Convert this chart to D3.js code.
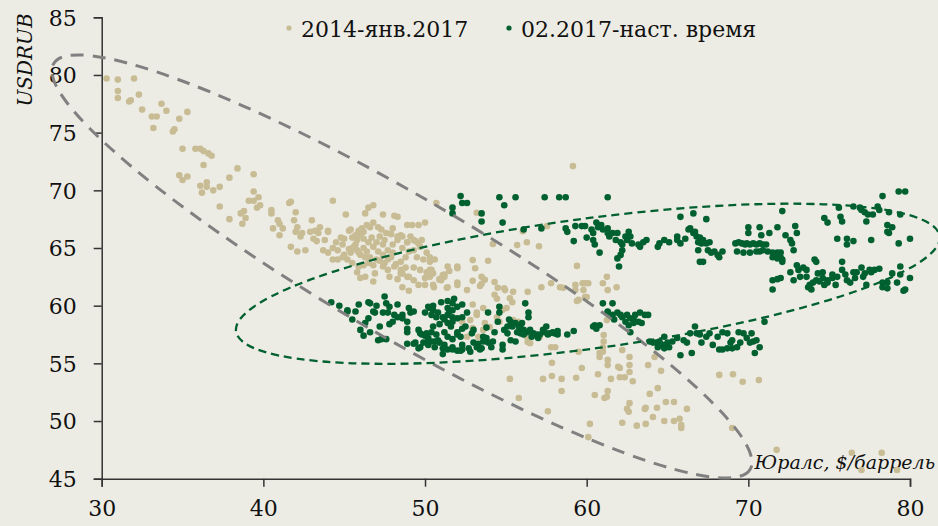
<!DOCTYPE html>
<html>
<head>
<meta charset="utf-8">
<script src="https://cdn.jsdelivr.net/npm/d3@7"></script>
<style>
  html, body { margin: 0; padding: 0; background: #edece4; }
  svg { display: block; }
  text { font-family: "DejaVu Serif", "Liberation Serif", serif; fill: #111; }
</style>
</head>
<body>
<svg width="938" height="526"></svg>
<script>

// Юралс ($/баррель), USDRUB — 2014 - янв.2017
const period_old = [
  [30.3,79.7],[31.0,79.6],[32.0,79.7],[31.0,78.6],[31.0,78.0],[31.7,77.7],[31.8,77.8],[32.3,78.3],
  [32.5,77.0],[33.1,76.4],[33.4,76.4],[33.2,75.4],[33.7,77.5],[34.0,76.9],[34.8,76.2],[35.3,76.8],
  [34.4,75.1],[34.5,75.3],[35.0,73.6],[35.8,73.6],[36.1,73.6],[36.3,73.4],[36.6,73.2],[36.8,73.0],
  [36.3,72.2],[34.8,71.3],[35.0,70.9],[35.3,71.2],[36.1,70.4],[36.5,70.7],[36.5,70.3],[36.2,69.8],
  [36.9,70.0],[37.3,70.3],[38.4,71.9],[37.9,71.1],[39.4,71.4],[37.3,68.6],[37.9,67.5],[38.6,68.0],
  [38.8,68.2],[38.9,67.6],[38.7,67.1],[39.1,69.1],[39.4,69.9],[39.4,69.1],[39.7,69.4],[39.6,68.5],
  [39.8,68.7],[40.5,68.3],[40.5,68.0],[40.9,67.4],[41.0,67.1],[40.6,66.7],[41.2,66.7],[41.0,66.1],
  [41.6,68.9],[41.7,69.0],[42.0,68.1],[41.9,67.4],[42.1,66.8],[42.0,66.4],[42.4,66.3],[42.3,66.0],
  [43.0,67.4],[41.7,65.1],[42.1,64.7],[42.6,64.8],[43.7,64.8],[44.3,69.1],[44.0,66.5],[45.1,67.9],
  [45.4,66.6],[46.3,68.0],[46.5,68.5],[46.8,68.7],[47.4,67.9],[48.1,67.8],[42.9,66.4],[43.2,66.5],
  [43.5,66.8],[43.4,66.3],[43.1,65.8],[43.3,65.6],[43.8,65.7],[44.0,66.4],[45.3,66.5],[45.9,66.5],
  [46.1,66.6],[46.2,65.8],[48.3,67.7],[48.9,67.0],[49.2,67.0],[50.0,67.2],[49.6,67.0]
];

const period_old_core = [
  [44.5,65.5],[44.8,65.9],[44.9,65.3],[44.6,64.8],[44.9,64.2],[44.6,64.0],[45.2,64.0],[45.4,64.6],
  [45.6,65.1],[45.8,65.7],[46.0,66.1],[46.2,66.4],[45.8,64.8],[46.0,64.4],[46.2,65.0],[46.4,64.7],
  [46.5,65.5],[46.7,65.9],[46.8,65.1],[47.0,65.5],[47.2,66.0],[47.4,65.3],[47.5,65.7],[47.1,64.7],
  [47.4,64.4],[47.7,64.8],[47.7,64.0],[48.0,64.6],[48.0,65.3],[48.3,65.7],[48.5,66.1],[48.6,65.0],
  [48.8,64.2],[48.5,63.8],[48.9,65.5],[49.1,66.0],[49.3,64.8],[49.5,64.2],[49.7,65.1],[49.9,64.0],
  [50.1,64.6],[50.3,63.8],[46.2,63.5],[45.8,62.9],[46.0,62.4],[46.3,62.5],[46.8,62.1],[46.8,63.5],
  [47.4,63.4],[47.7,63.1],[47.8,62.5],[48.3,62.3],[48.5,63.1],[48.6,62.8],[49.0,62.5],[49.3,63.3],
  [49.7,63.1],[50.0,62.4],[50.1,62.9],[50.3,63.1],[50.5,61.8],[50.9,62.3],[51.2,62.7],[51.4,61.6],
  [51.4,63.4],[52.0,63.4],[52.0,62.0],[48.6,61.6],[49.0,61.3],[45.3,64.9],[45.0,65.8],[46.6,64.2],
  [47.9,66.2],[48.2,63.6],[49.4,65.6],[44.3,65.0],[45.5,63.7],[47.2,63.9],
  [45.5,65.9],[45.7,66.1],[45.9,66.4],[46.1,66.7],[46.4,67.0],[46.6,66.8],[46.8,67.2],[47.1,66.8],
  [47.3,66.6],[47.6,66.3],[48.0,66.7],[48.3,66.0],[48.6,66.0],[48.9,65.5],[49.3,65.7],[49.6,65.4],
  [49.8,65.7],[45.5,65.0],[45.7,65.3],[45.9,64.6],[46.3,64.2],[46.5,63.7],[47.0,64.0],[47.5,63.7],
  [48.1,63.4],[48.5,62.8],[48.9,62.5],[49.3,62.2],[49.6,61.8],[50.0,61.8],[50.3,62.5],[50.5,62.8],
  [51.0,62.2],[51.2,62.5],[44.0,64.6],[44.3,64.0],[45.0,64.4],[45.9,63.4],[47.9,64.2],[48.8,63.3],
  [49.0,64.7],[50.6,64.0],[51.5,63.0],[46.9,62.8]
];

const period_old_low = [
  [50.7,68.9],[53.2,68.05],[57.55,66.9],[55.7,65.25],[56.3,65.5],[57.05,65.15],[54.2,65.35],[56.05,66.45],
  [59.15,72.1],[59.4,63.45],[50.3,64.2],[50.4,63.1],[50.55,61.6],[50.9,62.25],[51.1,62.65],[51.35,61.55],
  [52.0,63.25],[52.95,63.95],[53.1,63.25],[53.9,63.9],[52.0,61.8],[52.95,62.15],[52.6,61.35],[53.5,62.5],
  [53.7,62.25],[53.4,61.7],[54.3,62.05],[54.5,61.55],[54.3,60.95],[54.95,61.35],[55.45,61.2],[55.25,60.65],
  [54.45,60.6],[54.6,59.9],[54.8,59.65],[55.05,59.8],[55.4,60.3],[53.6,59.8],[53.2,59.2],[53.7,58.5],
  [54.0,58.15],[53.6,57.9],[52.8,58.75],[52.95,58.05],[52.3,58.6],[52.6,57.3],[53.3,57.3],[54.45,59.0],
  [54.6,58.6],[55.45,58.75],[55.75,58.6],[56.3,57.3],[56.35,56.85],[56.5,56.75],[57.1,57.3],[57.2,61.6],
  [58.55,61.55],[59.9,61.95],[60.1,61.95],[59.8,61.35],[60.0,60.75],[59.4,60.4],[59.3,61.35],[58.35,61.6],
  [61.25,62.5],[61.0,61.95],[61.3,61.35],[61.85,61.6],[57.8,56.4],[58.05,56.4],[59.5,56.0],[60.8,55.9],
  [61.05,57.45],[61.0,56.4],[60.8,55.55],[59.7,54.6],[57.85,55.05],[61.3,55.3],[61.3,54.85],[61.95,54.7],
  [62.05,54.6],[62.2,56.15],[62.65,55.55],[62.65,54.85],[62.65,54.25],[61.5,53.65],[62.05,53.8],[62.35,53.8],
  [62.85,53.45],[63.8,54.85],[64.2,55.55],[64.6,54.35],[60.7,54.05],[55.25,53.65],[57.3,53.65],[57.85,53.9],
  [58.45,53.65],[58.45,52.6],[55.8,52.0],[57.6,50.85],[59.35,53.75],[60.5,52.25],[61.1,52.0],[61.25,52.1],
  [61.3,52.6],[60.2,49.75],[62.2,49.85],[63.1,49.6],[63.65,49.75],[62.65,51.55],[62.5,51.05],[62.6,50.8],
  [63.6,51.05],[63.65,51.15],[63.9,52.35],[64.4,52.85],[64.35,51.15],[64.9,51.65],[64.1,50.35],[64.8,50.0],
  [65.4,51.65],[65.4,50.0],[65.75,50.2],[65.85,49.65],[65.85,49.4],[66.2,51.05],[68.2,54.0],[69.05,54.05],
  [69.65,53.4],[70.65,53.55],[69.0,49.4],[71.75,47.5],[76.4,47.25],[77.0,45.75],[78.25,47.25],[79.2,45.75],
  [60.1,48.6],[61.25,58.75],[52.95,60.1],[53.2,59.4],[53.5,61.9],[54.9,61.5],[56.35,61.2],[57.8,61.95],
  [59.3,61.8],[59.75,61.95],[59.5,60.5],[59.9,60.75],[61.05,56.9],[61.0,56.0]
];

// 02.2017 - наст. время
const period_new = [
  [44.2,60.3],[44.7,60.0],[45.2,59.5],[45.2,59.6],[45.7,59.5],[45.5,58.8],[46.3,58.5],[46.0,57.9],
  [46.6,57.7],[46.2,57.4],[47.1,57.0],[47.3,57.1],[47.6,57.1],[46.5,60.3],[46.6,60.2],[47.0,60.0],
  [47.5,60.8],[47.6,60.2],[47.8,59.9],[48.3,60.1],[46.8,59.5],[46.9,59.4],[47.4,59.4],[47.7,59.4],
  [48.1,59.2],[48.3,59.0],[48.6,59.2],[48.6,58.9],[49.1,59.4],[49.3,59.5],[48.9,58.6],[47.8,58.4],
  [48.9,58.0],[50.0,59.4],[50.2,59.9],[50.3,59.8],[50.5,59.6],[50.4,59.2],[50.7,59.0],[51.0,60.3],
  [51.4,60.4],[51.7,60.2],[51.8,60.6],[51.4,59.8],[51.5,59.5],[51.7,59.6],[51.4,59.2],[51.7,59.0],
  [51.4,58.5],[51.7,58.6],[52.0,58.9],[52.0,59.9],[52.3,60.1],[52.3,59.0],[52.5,58.2],[52.3,58.0],
  [52.0,57.7],[52.0,57.5],[51.2,57.7],[50.5,58.2],[50.4,57.7],[50.1,57.6],[50.0,57.4],[49.7,57.6],
  [49.8,57.5],[50.2,57.2],[50.4,56.9],[50.6,56.9],[50.8,57.0],[50.9,56.8],[51.2,56.6],[51.4,57.3],
  [51.7,57.1],[50.1,56.8],[50.2,56.6],[49.7,56.4],[49.9,56.8],[49.3,56.7],[49.4,56.8],[48.9,56.7],
  [49.6,56.3],[48.9,57.7],[51.1,56.3],[51.4,56.2],[51.7,56.4],[51.7,56.2],[52.0,56.1],[52.2,56.1],
  [52.3,56.2],[51.1,55.8],[52.3,56.6],[52.7,56.3],[52.9,57.6],[53.0,56.8],[53.2,56.4],[53.3,56.7],
  [53.4,56.2],[53.5,56.3],[53.6,56.9],[53.6,57.3],[53.8,57.2],[53.9,59.4],[54.1,56.4],[54.2,56.9],
  [54.5,58.6],[54.6,59.4],[54.6,59.9],[54.8,56.2],[54.8,56.6],[54.9,57.9],[55.1,58.2],[55.1,57.6],
  [55.3,57.0],[55.3,58.6],[55.4,58.2],[55.6,58.5],[55.8,58.2],[55.9,58.1],[56.0,58.5],[56.1,57.9],
  [56.3,57.7],[56.5,57.9],[55.9,57.6],[56.1,57.5],[56.4,59.4],[56.4,59.0],[56.2,60.2],[56.7,57.6],
  [56.9,57.5],[57.1,57.5],[57.0,57.2],[57.5,58.2],[57.4,57.7],[57.6,57.5],[57.7,57.6],[57.9,57.7],
  [58.0,57.6],[58.2,57.5],[58.2,57.8],[58.8,57.5],[59.2,57.8],[60.4,58.2],[60.5,58.3],[60.8,58.3],
  [60.6,58.0],[61.0,60.2],[61.6,60.2],[61.3,59.5],[61.3,59.4],[61.6,59.2],[61.9,59.4],[62.1,59.2],
  [62.2,59.0],[62.5,59.2],[62.7,58.9],[62.9,58.8],[62.6,58.3],[62.9,58.5],[63.2,58.6],[63.4,58.5],
  [63.6,59.2],[63.8,59.2],[63.3,59.4],[62.7,57.7],[63.9,56.9],[64.3,56.8],[64.5,56.9],[64.7,56.6],
  [64.8,56.3],[65.0,56.8],[65.1,56.4],[65.6,57.2],[65.8,55.7],[66.2,56.8],[66.4,57.6],[66.7,58.2],
  [66.8,57.6],[66.5,55.9],[67.1,56.8],[67.4,57.3],[67.6,57.6],[68.1,57.3],[68.2,56.2],[68.4,57.7],
  [68.7,57.6],[68.9,56.8],[69.0,57.0],[69.3,56.4],[69.4,57.7],[69.7,57.6],[69.9,57.2],[70.1,56.8],
  [70.2,57.6],[70.3,56.9],[70.4,55.9],[70.7,56.4],[71.0,58.6],[68.7,56.3],[69.0,56.3],[64.1,56.8],
  [64.4,56.4],[65.3,56.9],[67.0,57.5],[68.4,56.2],[69.5,56.8],[70.5,57.0],
  [50.5,60.0],[50.8,59.4],[51.1,59.0],[51.2,58.8],[50.9,58.4],[51.6,58.2],[52.2,57.3],[50.7,57.5],
  [49.6,57.9],[53.0,57.9],[54.3,57.7],[55.7,57.7],[56.6,57.3],[57.3,57.9],[55.2,58.8],[53.8,58.1],
  [52.6,59.4],[49.0,59.8],[48.0,58.6],[47.2,58.2],[46.5,58.9],[45.9,60.1],[50.6,56.4],[52.8,56.0],
  [53.9,56.8],[55.6,56.9],[61.7,58.8],[62.4,58.6],[63.0,59.2],[64.8,57.3],[66.0,57.0],[67.8,56.6]
];

const period_new_top = [
  [52.2,69.5],[52.3,68.9],[52.6,68.9],[51.7,68.5],[51.7,68.0],[54.6,69.4],[54.9,68.7],[55.6,69.4],
  [57.4,69.4],[58.3,69.4],[58.7,69.4],[61.3,69.4],[53.5,68.0],[53.5,67.3],[54.8,67.2],[56.1,66.6],
  [57.2,66.7],[58.7,66.7],[58.8,66.4],[59.2,65.6],[59.3,66.9],[59.7,66.9],[59.9,66.9],[60.0,65.9],
  [60.3,66.6],[60.4,66.3],[60.6,67.2],[60.7,66.8],[60.9,67.0],[61.0,66.6],[61.3,66.7],[61.3,66.3],
  [61.4,66.0],[61.6,66.3],[61.8,65.7],[61.9,66.3],[62.1,65.5],[62.2,65.3],[62.2,64.8],[62.1,64.4],
  [61.9,64.1],[62.0,63.4],[62.4,66.0],[62.5,65.7],[62.6,66.4],[62.7,66.0],[62.8,65.4],[63.3,65.1],
  [63.2,65.3],[63.5,65.5],[63.7,65.7],[60.8,64.6],[60.4,65.7],[60.5,65.3],[64.4,65.1],[64.5,65.4],
  [64.8,65.7],[65.1,65.5],[65.6,65.7],[65.6,66.0],[65.8,65.4],[66.1,65.8],[66.3,66.6],[66.4,66.7],
  [66.6,66.3],[66.7,66.4],[66.8,66.0],[66.9,65.5],[67.0,65.9],[67.1,65.4],[67.2,65.7],[67.4,65.4],
  [67.6,65.5],[67.5,64.8],[67.7,64.6],[67.9,64.7],[68.1,64.4],[68.2,64.2],[68.4,64.7],[66.9,64.8],
  [67.0,63.8],[67.2,63.8],[65.8,67.7],[66.6,68.0],[67.4,67.5],[69.2,65.4],[69.4,65.5],[69.6,65.4],
  [69.8,65.3],[69.9,65.4],[70.1,65.3],[70.3,65.4],[70.5,65.3],[70.7,65.4],[70.9,65.3],[71.1,65.3],
  [69.3,64.7],[69.7,64.6],[70.1,64.6],[70.5,64.7],[70.7,64.7],[70.9,64.8],[71.2,64.7],[71.5,64.6],
  [71.5,64.2],[71.6,64.4],[71.8,64.6],[71.8,64.1],[72.0,64.2],[72.1,64.0],[72.1,63.8],[72.0,64.6],
  [70.0,66.8],[70.0,66.3],[70.7,66.8],[70.8,66.1],[71.3,66.3],[71.8,66.8],[72.3,66.1],[72.9,66.9],
  [73.0,66.3],[72.6,65.7],[72.7,65.4],[72.8,64.8],[72.1,68.2]
];

const period_new_right = [
  [71.5,62.2],[71.8,62.3],[72.0,62.4],[71.5,61.4],[72.6,62.9],[72.8,62.2],[73.0,63.5],[73.1,63.1],
  [73.2,62.5],[73.4,63.3],[73.6,63.1],[73.6,62.5],[73.7,61.6],[73.8,61.8],[73.9,61.4],[74.0,62.0],
  [74.1,64.0],[74.2,63.8],[74.3,62.8],[74.2,62.2],[74.4,62.1],[74.6,62.9],[74.6,62.4],[74.7,61.8],
  [74.9,62.2],[74.9,62.0],[75.2,62.7],[75.2,62.4],[75.4,61.8],[75.5,62.5],[75.8,63.8],[75.8,63.1],
  [76.0,62.7],[76.1,62.2],[76.3,62.0],[76.5,62.9],[76.6,62.4],[76.7,62.9],[77.0,63.3],[77.1,62.5],
  [77.2,62.8],[77.3,61.8],[77.5,63.1],[77.6,62.9],[77.8,63.1],[78.1,63.2],[78.3,62.0],[78.3,61.6],
  [78.6,61.5],[78.6,62.0],[78.9,62.8],[79.2,62.0],[79.4,63.4],[79.7,61.4],[80.0,62.4],[79.4,62.7],
  [74.7,67.6],[74.9,67.2],[75.6,68.5],[75.7,67.7],[75.8,67.3],[76.5,68.6],[76.9,68.5],[77.0,68.3],
  [77.2,68.1],[77.3,67.3],[77.4,67.9],[77.7,67.9],[78.0,68.6],[78.1,68.3],[78.3,69.5],[78.7,68.1],
  [79.4,67.9],[79.3,69.9],[78.6,67.0],[78.6,66.4],[78.7,66.3],[78.9,66.8],[75.5,65.8],[76.1,65.8],
  [76.5,65.6],[76.1,65.3],[77.6,65.7],[79.3,65.4],[80.0,65.8],[79.7,69.9],[79.6,61.3]
];

const x_ticks = [30, 40, 50, 60, 70, 80];
const y_ticks = [45, 50, 55, 60, 65, 70, 75, 80, 85];
const legend_labels = ["2014-янв.2017", "02.2017-наст. время"];
const axis_titles = { x: "Юралс, $/баррель", y: "USDRUB" };

const vis = {

    params : {
        margin : { left : 101.7, right : 910, top : 17.3, bottom : 478.7 },
        colors : { old : "#c8bc95", now : "#00602f", grey : "#808080", axis : "#333" },
        r : 3.3,
        // ellipses: centre in data units, radii in pixels, angle in degrees
        ellipses : [
            { cx : 48.57, cy : 63.4, rx : 403, ry : 70, angle : 30.2, color : "#808080", width : 3, dash : "13,9" },
            { cx : 60.07, cy : 61.9, rx : 355, ry : 65, angle : -7.7, color : "#00602f", width : 2.3, dash : "8,5" }
        ]
    },

    sels : { svg : null },

    scales : { x : null, y : null },

    render : {

        axes : function() {
            const svg = vis.sels.svg, p = vis.params;

            const gx = svg.append("g")
              .attr("transform", `translate(0,${p.margin.bottom})`)
              .call(d3.axisBottom(vis.scales.x).tickValues(x_ticks).tickSize(8).tickPadding(14));

            const gy = svg.append("g")
              .attr("transform", `translate(${p.margin.left},0)`)
              .call(d3.axisLeft(vis.scales.y).tickValues(y_ticks).tickSize(8).tickPadding(17));

            [gx, gy].forEach(g => {
                g.select(".domain").attr("stroke", p.colors.axis).attr("stroke-width", 1.5);
                g.selectAll(".tick line").attr("stroke", p.colors.axis).attr("stroke-width", 1.5);
                g.selectAll(".tick text")
                  .attr("fill", "#111")
                  .style("font-family", "DejaVu Serif")
                  .style("font-size", "22px");
            });

            gy.selectAll(".tick text").attr("dy", "0.36em");

            svg.append("text")
              .attr("transform", "translate(32,60) rotate(-90)")
              .attr("text-anchor", "middle")
              .style("font-style", "italic")
              .style("font-size", "20px")
              .text(axis_titles.y);

            svg.append("text")
              .attr("x", 935)
              .attr("y", 469)
              .attr("text-anchor", "end")
              .style("font-style", "italic")
              .style("font-size", "19px")
              .text(axis_titles.x);
        },

        points : function(data, color) {
            vis.sels.svg.append("g")
              .selectAll("circle")
              .data(data)
              .join("circle")
              .attr("cx", d => vis.scales.x(d[0]))
              .attr("cy", d => vis.scales.y(d[1]))
              .attr("r", vis.params.r)
              .attr("fill", color);
        },

        ellipses : function() {
            vis.sels.svg.append("g")
              .selectAll("ellipse")
              .data(vis.params.ellipses)
              .join("ellipse")
              .attr("transform", d => `translate(${vis.scales.x(d.cx)},${vis.scales.y(d.cy)}) rotate(${d.angle})`)
              .attr("rx", d => d.rx)
              .attr("ry", d => d.ry)
              .attr("fill", "none")
              .attr("stroke", d => d.color)
              .attr("stroke-width", d => d.width)
              .attr("stroke-dasharray", d => d.dash);
        },

        legend : function() {
            const items = [
                { label : legend_labels[0], color : vis.params.colors.old, x : 289 },
                { label : legend_labels[1], color : vis.params.colors.now, x : 509 }
            ];
            const g = vis.sels.svg.append("g").selectAll("g").data(items).join("g")
              .attr("transform", d => `translate(${d.x},28)`);
            g.append("circle").attr("r", 2.6).attr("fill", d => d.color);
            g.append("text")
              .attr("x", 12)
              .attr("y", 9)
              .style("font-size", "22px")
              .text(d => d.label);
        }
    },

    control : {

        init : function() {
            const p = vis.params;
            vis.sels.svg = d3.select("svg");

            vis.scales.x = d3.scaleLinear().domain([30, 80]).range([p.margin.left, p.margin.right]);
            vis.scales.y = d3.scaleLinear().domain([45, 85]).range([p.margin.bottom, p.margin.top]);

            vis.render.axes();
            vis.render.points(period_old.concat(period_old_core, period_old_low), p.colors.old);
            vis.render.points(period_new.concat(period_new_top, period_new_right), p.colors.now);
            vis.render.ellipses();
            vis.render.legend();
        }
    }
};

vis.control.init();
</script>
</body>
</html>
